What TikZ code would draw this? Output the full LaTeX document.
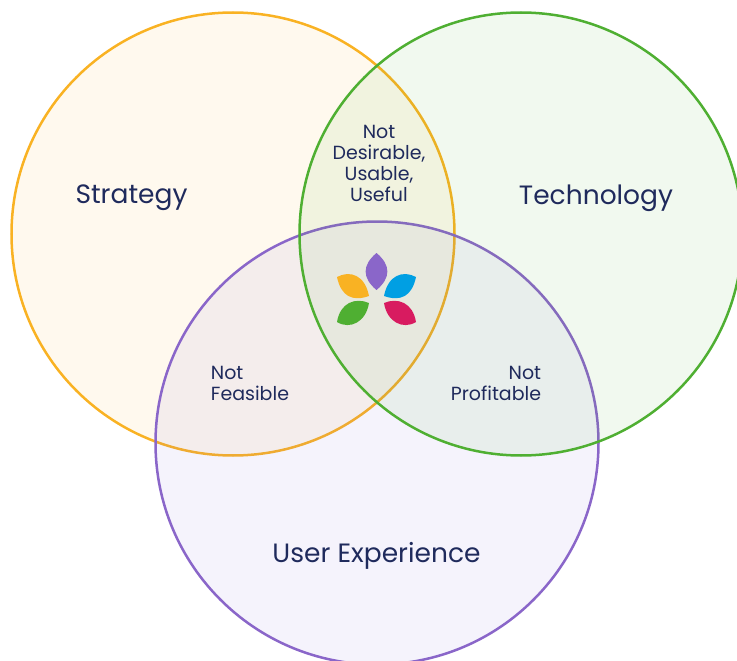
\documentclass[tikz,border=0pt]{standalone}
\usepackage{fontspec}
\setmainfont{Poppins}
\definecolor{strategycol}{HTML}{F9B223}
\definecolor{techcol}{HTML}{4FAF32}
\definecolor{uxcol}{HTML}{8A66C9}
\definecolor{uxfillcol}{HTML}{7C62D8}
\definecolor{bluecol}{HTML}{009FE3}
\definecolor{redcol}{HTML}{D81B60}
\definecolor{inkcol}{HTML}{1F2A5C}

\begin{document}
\begin{tikzpicture}[
x=1pt, y=-1pt,
setnode/.style={circle, draw, line width=2.5pt, minimum size=443pt, inner sep=0pt, fill opacity=0.08},
bigtext/.style={text=inkcol, font=\fontsize{26.5}{30}\selectfont, inner sep=0pt},
smalltext/.style={text=inkcol, font=\fontsize{19}{21}\selectfont, inner sep=0pt},
petal/.style={draw=none}
]
\useasboundingbox (0,0) rectangle (737,661);
\clip (0,0) rectangle (737,661);

%Circles
\node[setnode, draw=strategycol, fill=strategycol]  (strategy)    at (233,234)   {};
\node[setnode, draw=uxcol, fill=uxfillcol]          (experience)  at (377,443)   {};
\node[setnode, draw=techcol, fill=techcol]          (technology)  at (521,234)   {};

%Labels
\node[bigtext]    (strategylabel)    at (131.5,198)  {Strategy};
\node[bigtext]    (technologylabel)  at (596,198)    {Technology};
\node[bigtext]    (experiencelabel)  at (376.5,556)  {User Experience};
\node[smalltext, align=center]  (desirable)   at (379,163)  {Not\\Desirable,\\Usable,\\Useful};
\node[smalltext, align=left]    (feasible)    at (250,383)  {Not\\Feasible};
\node[smalltext, align=right]   (profitable)  at (496,383)  {Not\\Profitable};

%Petals
\fill[petal, uxcol] (376.5,253) .. controls (391,265) and (391,278) .. (376.5,290) .. controls (362,278) and (362,265) .. (376.5,253) -- cycle;
\fill[petal, strategycol] (337,277) .. controls (350,270) and (365,275) .. (369,296) .. controls (352,302) and (341,296) .. (337,277) -- cycle;
\fill[petal, bluecol] (416,277) .. controls (403,270) and (388,275) .. (384,296) .. controls (401,302) and (412,296) .. (416,277) -- cycle;
\fill[petal, techcol] (337,322) .. controls (340,303) and (355,297) .. (369,303) .. controls (366,322) and (350,330) .. (337,322) -- cycle;
\fill[petal, redcol] (416,322) .. controls (413,303) and (398,297) .. (384,303) .. controls (387,322) and (403,330) .. (416,322) -- cycle;

\end{tikzpicture}
\end{document}
